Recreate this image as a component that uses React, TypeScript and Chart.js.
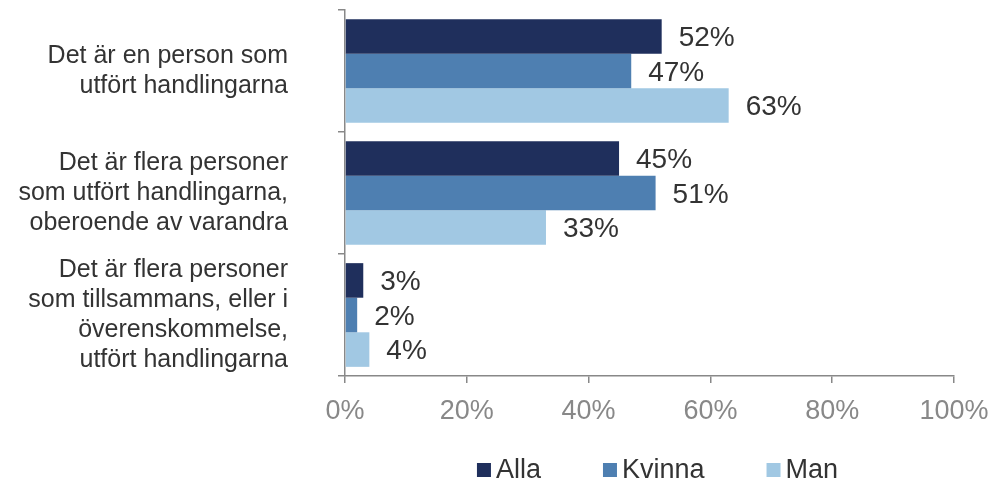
import React, { useEffect, useRef } from "react";
import { Chart, registerables } from "chart.js";

Chart.register(...registerables);

const categories: string[][] = [
  ["Det är en person som", "utfört handlingarna"],
  ["Det är flera personer", "som utfört handlingarna,", "oberoende av varandra"],
  ["Det är flera personer", "som tillsammans, eller i", "överenskommelse,", "utfört handlingarna"],
];
const seriesNames = ["Alla", "Kvinna", "Man"];
const alla = [52, 45, 3];
const kvinna = [47, 51, 2];
const man = [63, 33, 4];
const valueLabels = [
  ["52%", "45%", "3%"],
  ["47%", "51%", "2%"],
  ["63%", "33%", "4%"],
];
const colors = ["#1F2F5C", "#4E7FB1", "#A1C8E3"];
const xTicks = [0, 20, 40, 60, 80, 100];

const FONT = "'Liberation Sans', Arial, sans-serif";

const labelPlugin = {
  id: "valueLabels",
  afterDatasetsDraw(chart: any) {
    const ctx = chart.ctx;
    ctx.save();
    ctx.font = `28px ${FONT}`;
    ctx.fillStyle = "#333333";
    ctx.textAlign = "left";
    ctx.textBaseline = "middle";
    chart.data.datasets.forEach((ds: any, di: number) => {
      const meta = chart.getDatasetMeta(di);
      meta.data.forEach((el: any, i: number) => {
        ctx.fillText(valueLabels[di][i], el.x + 17, el.y + 2);
      });
    });
    ctx.restore();
  },
};

const legendPlugin = {
  id: "customLegend",
  afterDraw(chart: any) {
    const ctx = chart.ctx;
    const ca = chart.chartArea;
    ctx.save();
    ctx.font = `27px ${FONT}`;
    ctx.textBaseline = "middle";
    ctx.textAlign = "left";
    const box = 14;
    const gap = 5;
    const itemGap = 62;
    const widths = seriesNames.map((n) => box + gap + ctx.measureText(n).width);
    const total = widths.reduce((a, b) => a + b, 0) + itemGap * (seriesNames.length - 1);
    let x = (ca.left + ca.right) / 2 + 8 - total / 2;
    const y = 470;
    seriesNames.forEach((n, i) => {
      ctx.fillStyle = colors[i];
      ctx.fillRect(x, y - box / 2, box, box);
      ctx.fillStyle = "#333333";
      ctx.fillText(n, x + box + gap, y + 1);
      x += widths[i] + itemGap;
    });
    ctx.restore();
  },
};

export default function App() {
  const ref = useRef<HTMLCanvasElement>(null);
  useEffect(() => {
    document.body.style.margin = "0";
    const data = [alla, kvinna, man];
    const chart = new Chart(ref.current!, {
      type: "bar",
      data: {
        labels: categories,
        datasets: seriesNames.map((name, i) => ({
          label: name,
          data: data[i],
          backgroundColor: colors[i],
          borderWidth: 0,
          categoryPercentage: 0.85,
          barPercentage: 1.0,
        })),
      },
      options: {
        indexAxis: "y",
        animation: false,
        responsive: false,
        maintainAspectRatio: false,
        layout: { padding: { top: 10, right: 41, left: 0, bottom: 0 } },
        plugins: {
          tooltip: { enabled: false },
          legend: { display: false },
        },
        scales: {
          x: {
            min: 0,
            max: 100,
            afterBuildTicks: (scale: any) => {
              scale.ticks = xTicks.map((v) => ({ value: v }));
            },
            afterFit: (scale: any) => {
              scale.height = 110;
              scale.paddingRight = 0;
              scale.paddingLeft = 0;
            },
            ticks: {
              callback: (v: any) => `${v}%`,
              color: "#888888",
              font: { family: FONT, size: 27 },
              padding: 12,
              maxRotation: 0,
              autoSkip: false,
            },
            grid: {
              drawOnChartArea: false,
              color: "#888888",
              tickLength: 7,
              lineWidth: 1.5,
            },
            border: { color: "#888888", width: 1.5 },
          },
          y: {
            afterFit: (scale: any) => {
              scale.width = 345;
              scale.paddingTop = 0;
              scale.paddingBottom = 0;
            },
            ticks: {
              color: "#333333",
              font: { family: FONT, size: 25, lineHeight: 1.2 },
              padding: 50,
              autoSkip: false,
            },
            grid: {
              drawOnChartArea: false,
              color: "#888888",
              tickLength: 7,
              lineWidth: 1.5,
              offset: true,
            },
            border: { color: "#888888", width: 1.5 },
          },
        },
      },
      plugins: [labelPlugin, legendPlugin],
    });
    return () => chart.destroy();
  }, []);
  return (
    <div style={{ width: 995, height: 486 }}>
      <canvas ref={ref} width={995} height={486} />
    </div>
  );
}
